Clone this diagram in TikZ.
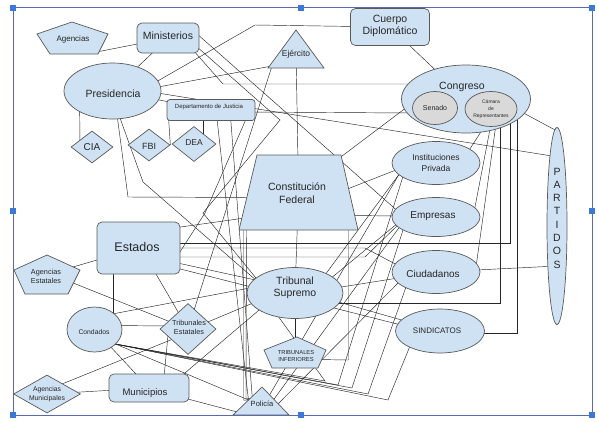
\documentclass[tikz,border=0pt]{standalone}
\usepackage{fontspec}
\setmainfont{Liberation Sans}
\usetikzlibrary{shapes.geometric,backgrounds}
\definecolor{shpfill}{HTML}{CFE2F3}
\definecolor{shpline}{HTML}{595959}
\definecolor{greyfill}{HTML}{D9D9D9}
\definecolor{framec}{HTML}{5B6AA8}
\definecolor{handlec}{HTML}{3C78D8}
\newcommand{\fs}[1]{\fontsize{#1}{#1}\selectfont}
\begin{document}
\begin{tikzpicture}[x=1pt,y=-1pt,
  shp/.style={draw=shpline, fill=shpfill, line width=0.7pt},
  rbox/.style={shp, rectangle, rounded corners=5pt, inner sep=0pt},
  ell/.style={shp, ellipse, inner sep=0pt},
  gell/.style={ell, fill=greyfill},
  dia/.style={shp, diamond, inner sep=0pt},
  hold/.style={rectangle, inner sep=0pt, draw=none},
  lnk/.style={draw=black!85, line width=0.45pt},
  txt/.style={align=center, inner sep=0pt, text=black!85},
  handle/.style={rectangle, fill=handlec, draw=none, minimum size=6pt, inner sep=0pt}]
\useasboundingbox (0,0) rectangle (599,421);

% ---------- shapes ----------
\node[hold, minimum width=71, minimum height=32] (agen) at (72.5,38) {};
\draw[shp] (37,34) -- (72,22) -- (108,34) -- (98,54) -- (50,54) -- cycle;
\node[txt, font=\fs{8}] (agenT) at (73,39) {Agencias};

\node[rbox, minimum width=62, minimum height=30] (mini) at (168,38) {};
\node[txt, font=\fs{10.5}] (miniT) at (168,36) {Ministerios};

\node[ell, minimum width=97, minimum height=56] (pres) at (112.5,91) {};
\node[txt, font=\fs{10.5}] (presT) at (113,94) {Presidencia};

\node[rbox, rounded corners=3pt, minimum width=88, minimum height=21] (dj) at (211,110) {};
\node[txt, font=\fs{6}] (djT) at (209,107) {Departamento de Justicia};

\node[dia, minimum width=42, minimum height=32] (cia) at (92,147) {};
\node[txt, font=\fs{10}] (ciaT) at (92,147) {CIA};
\node[dia, minimum width=42, minimum height=32] (fbi) at (149,145) {};
\node[txt, font=\fs{9}] (fbiT) at (149,146) {FBI};
\node[dia, minimum width=44, minimum height=35] (dea) at (194,144) {};
\node[txt, font=\fs{8.5}] (deaT) at (194,143) {DEA};

\node[hold, minimum width=56, minimum height=38] (ejer) at (296,49) {};
\draw[shp] (296,30) -- (324,68) -- (268,68) -- cycle;
\node[txt, font=\fs{8.5}] (ejerT) at (296,54) {Ejército};

\node[rbox, minimum width=79, minimum height=37] (cuer) at (390,27) {};
\node[txt, font=\fontsize{10.5}{12}\selectfont] (cuerT) at (390,26) {Cuerpo\\Diplomático};

\node[ell, minimum width=129, minimum height=68] (cong) at (466,99) {};
\node[txt, font=\fs{10.5}] (congT) at (462,87) {Congreso};
\node[gell, minimum width=45, minimum height=33] (sen) at (435,108) {};
\node[txt, font=\fs{7}] (senT) at (435,108) {Senado};
\node[gell, minimum width=52, minimum height=35] (cam) at (491,109) {};
\node[txt, font=\fontsize{5}{7}\selectfont] (camT) at (491,109) {Cámara\\de\\Representantes};

\node[ell, minimum width=20, minimum height=197] (part) at (557,226) {};
\node[txt, font=\fontsize{10.5}{13.3}\selectfont] (partT) at (557,218) {P\\A\\R\\T\\I\\D\\O\\S};

\node[ell, minimum width=88, minimum height=43] (inst) at (436,163) {};
\node[txt, font=\fontsize{8.5}{10.5}\selectfont] (instT) at (436,163) {Instituciones\\Privada};
\node[ell, minimum width=88, minimum height=39] (empr) at (436,217) {};
\node[txt, font=\fs{10}] (emprT) at (433,216) {Empresas};
\node[ell, minimum width=88, minimum height=43] (ciud) at (436,272) {};
\node[txt, font=\fs{10}] (ciudT) at (433,274) {Ciudadanos};
\node[ell, minimum width=89, minimum height=44] (sind) at (440,331) {};
\node[txt, font=\fs{8}] (sindT) at (437,331) {SINDICATOS};

\node[hold, minimum width=119, minimum height=75] (const) at (298.5,192.5) {};
\draw[shp] (257,155) -- (341,155) -- (358,230) -- (239,230) -- cycle;
\node[txt, font=\fontsize{10.5}{12.5}\selectfont] (constT) at (297,193) {Constitución\\Federal};

\node[rbox, minimum width=83, minimum height=52] (est) at (138.5,248) {};
\node[txt, font=\fs{12.5}] (estT) at (137,247) {Estados};

\node[hold, minimum width=66, minimum height=39] (agest) at (47,274.5) {};
\draw[shp] (47,255) -- (80,270) -- (68,294) -- (25,294) -- (14,270) -- cycle;
\node[txt, font=\fontsize{7.3}{9}\selectfont] (agestT) at (46,276) {Agencias\\Estatales};

\node[ell, minimum width=96, minimum height=51] (trib) at (295,293) {};
\node[txt, font=\fontsize{10.5}{12.5}\selectfont] (tribT) at (295,288) {Tribunal\\Supremo};

\node[ell, minimum width=55, minimum height=45] (cond) at (94.5,329.5) {};
\node[txt, font=\fs{6.8}] (condT) at (94,332) {Condados};

\node[dia, minimum width=56, minimum height=51] (tribe) at (188,329) {};
\node[txt, font=\fontsize{7.3}{9}\selectfont] (tribeT) at (189,327) {Tribunales\\Estatales};

\node[hold, minimum width=62, minimum height=31] (tribi) at (295,352.5) {};
\draw[shp] (297,337) -- (326,350) -- (318,368) -- (272,368) -- (264,350) -- cycle;
\node[txt, font=\fontsize{5.8}{7}\selectfont] (tribiT) at (296,356) {TRIBUNALES\\INFERIORES};

\node[dia, minimum width=67, minimum height=38] (agmun) at (47,394) {};
\node[txt, font=\fontsize{6.8}{8.5}\selectfont] (agmunT) at (47,394) {Agencias\\Municipales};

\node[rbox, minimum width=80, minimum height=28] (muni) at (149,388) {};
\node[txt, font=\fs{9.5}] (muniT) at (145,393) {Municipios};

\node[hold, minimum width=56, minimum height=28] (poli) at (261,401) {};
\draw[shp] (262,387) -- (289,415) -- (233,415) -- cycle;
\node[txt, font=\fs{7.5}] (poliT) at (262,404) {Policía};

% ---------- connectors ----------
\begin{scope}[on background layer, every path/.style={lnk}]
\draw ([shift={(24,14)}]agen.center) -- (mini.center);
\draw (mini.center) -- (pres.center);
\draw ([shift={(40,-7)}]pres.center) -- (255,25) -- (cuer.center);
\draw ([shift={(40,-3)}]pres.center) -- ([shift={(-24,17)}]ejer.center);
\draw ([shift={(45,2)}]pres.center) -- ([shift={(-5,-70)}]part.center);
\draw ([shift={(25,12)}]mini.center) -- (223,84) -- ([shift={(-55,-15)}]cong.center);
\draw ([shift={(28,-5)}]mini.center) -- ([shift={(-35,-3)}]empr.center);
\draw ([shift={(28,8)}]mini.center) -- (280,120) -- (203,213) -- ([shift={(-35,-10)}]trib.center);
\draw (ejer.center) -- (const.center);
\draw ([shift={(-24,17)}]ejer.center) -- (tribe.center);
\draw (cuer.center) -- (cong.center);
\draw ([shift={(40,2)}]dj.center) -- ([shift={(-55,14)}]cong.center);
\draw (pres.center) -- (dj.center);
\draw ([shift={(-33,0)}]pres.center) -- ([shift={(-12,0)}]cia.center);
\draw ([shift={(2,5)}]pres.center) -- (128,197) -- ([shift={(-45,5)}]const.center);
\draw ([shift={(5,20)}]pres.center) -- (143,182) -- ([shift={(-30,-5)}]trib.center);
\draw ([shift={(-43,0)}]dj.center) -- (fbi.east);
\draw ([shift={(-8,0)}]dj.center) -- ([shift={(9,-4)}]dea.center);
\draw ([shift={(5,0)}]dj.center) -- ([shift={(-12,4)}]poli.center);
\draw ([shift={(19,0)}]dj.center) -- ([shift={(-8,6)}]poli.center);
\draw ([shift={(39,0)}]dj.center) -- (205,213) -- ([shift={(35,14)}]est.center);
\draw ([shift={(20,25)}]cong.center) -- ([shift={(30,-8)}]inst.center);
\draw ([shift={(25,25)}]cong.center) -- ([shift={(38,-5)}]empr.center);
\draw ([shift={(30,25)}]cong.center) -- ([shift={(40,-5)}]ciud.center);
\draw ([shift={(34,20)}]cong.center) -- (500,303) -- ([shift={(40,10)}]trib.center);
\draw ([shift={(44,18)}]cong.center) -- (510,243) -- ([shift={(30,-5)}]est.center);
\draw ([shift={(51,15)}]cong.center) -- (517,333) -- ([shift={(35,2)}]sind.center);
\draw ([shift={(50,10)}]cong.center) -- ([shift={(0,-95)}]part.center);
\draw ([shift={(-55,5)}]cong.center) -- ([shift={(35,-30)}]const.center);
\draw (ciud.center) -- ([shift={(0,40)}]part.center);
\draw ([shift={(40,0)}]const.center) -- ([shift={(-35,5)}]inst.center);
\draw ([shift={(50,23)}]const.center) -- ([shift={(-35,-1)}]empr.center);
\draw (const.center) -- (trib.center);
\draw ([shift={(50,30)}]const.center) -- (348.5,360) -- ([shift={(22,7)}]tribi.center);
\draw ([shift={(-55,35)}]const.center) -- (243.5,400) -- (poli.center);
\draw ([shift={(-52,35)}]const.center) -- (246,398) -- (poli.center);
\draw (trib.center) -- (tribi.center);
\draw ([shift={(40,8)}]trib.center) -- (sind.center);
\draw ([shift={(35,-14)}]trib.center) -- ([shift={(-38,6)}]empr.center);
\draw ([shift={(30,-18)}]trib.center) -- ([shift={(-36,10)}]inst.center);
\draw ([shift={(40,-5)}]trib.center) -- (ciud.center);
\draw (est.center) -- (agest.center);
\draw ([shift={(-25,0)}]est.center) -- (113.5,318);
\draw ([shift={(14,20)}]est.center) -- (tribe.center);
\draw ([shift={(35,-20)}]est.center) -- ([shift={(-50,25)}]const.center);
\draw ([shift={(30,0)}]est.center) -- (365,248) -- ([shift={(-35,-5)}]ciud.center);
\draw ([shift={(30,9)}]est.center) -- (365,257) -- ([shift={(-35,5)}]empr.center);
\draw ([shift={(30,13)}]est.center) -- ([shift={(-35,-12)}]trib.center);
\draw ([shift={(30,18)}]est.center) -- ([shift={(-35,-5)}]sind.center);
\draw ([shift={(25,8)}]agest.center) -- (tribe.center);
\draw ([shift={(20,-4)}]cond.center) -- ([shift={(-20,-3)}]tribe.center);
\draw ([shift={(15,-15)}]cond.center) -- ([shift={(-40,-6)}]trib.center);
\draw (cond.center) -- (muni.center);
\draw ([shift={(15,12)}]cond.center) -- ([shift={(-10,0)}]poli.center);
\draw ([shift={(18,14)}]cond.center) -- (388,400) -- ([shift={(-30,15)}]sind.center);
\draw ([shift={(18,14)}]cond.center) -- (368,394) -- ([shift={(-30,15)}]ciud.center);
\draw ([shift={(18,14)}]cond.center) -- (352,388) -- ([shift={(-32,10)}]empr.center);
\draw ([shift={(18,14)}]cond.center) -- (338,385) -- ([shift={(-32,10)}]inst.center);
\draw ([shift={(18,14)}]cond.center) -- (325,381) -- ([shift={(-25,12)}]trib.center);
\draw ([shift={(15,-10)}]agmun.center) -- ([shift={(-15,10)}]tribe.center);
\draw (agmun.center) -- (muni.center);
\draw ([shift={(14,0)}]muni.center) -- ([shift={(-20,6)}]tribe.center);
\draw ([shift={(35,10)}]muni.center) -- ([shift={(-20,12)}]poli.center);
\draw ([shift={(30,-10)}]muni.center) -- ([shift={(-30,12)}]trib.center);
\draw ([shift={(15,-5)}]tribe.center) -- ([shift={(-30,5)}]trib.center);
\draw ([shift={(5,0)}]poli.center) -- ([shift={(-35,8)}]inst.center);
\draw ([shift={(8,5)}]poli.center) -- ([shift={(-35,8)}]empr.center);
\draw ([shift={(12,8)}]poli.center) -- ([shift={(-35,8)}]ciud.center);
\end{scope}

% ---------- selection frame ----------
\draw[framec, line width=0.8pt] (13,7.5) rectangle (592,415);
\foreach \hx/\hy/\hn in {13/7.5/h1, 301/7.5/h2, 592/7.5/h3, 13/211/h4, 592/211/h5, 13/415/h6, 301/415/h7, 592/415/h8}
  \node[handle] (\hn) at (\hx,\hy) {};
\end{tikzpicture}
\end{document}
